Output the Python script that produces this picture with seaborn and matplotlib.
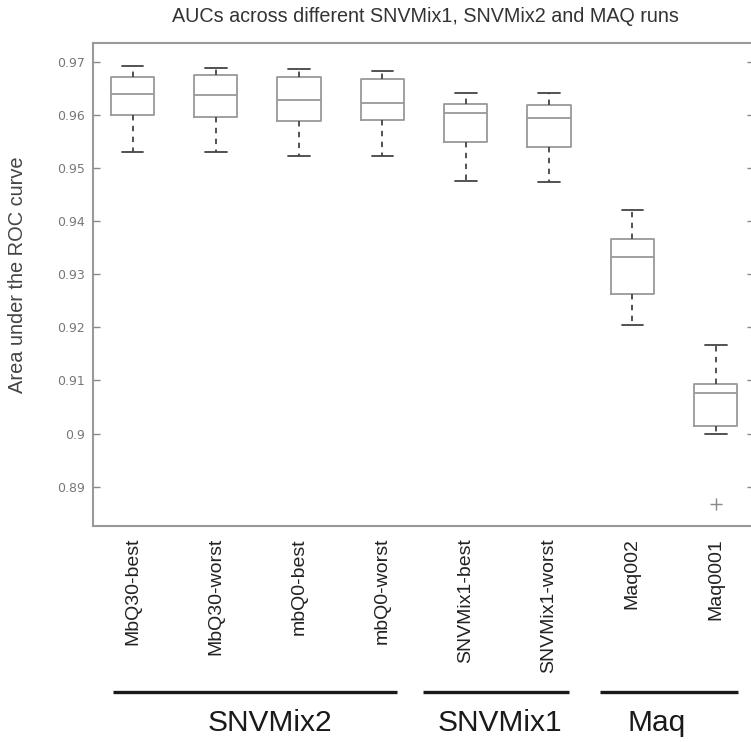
import matplotlib
matplotlib.use("Agg")
import matplotlib.pyplot as plt
import matplotlib.transforms as mtransforms
import pandas as pd
import seaborn as sns

# AUC values per run (five-number summary, plus the Maq0001 outlier)
runs = ['MbQ30-best', 'MbQ30-worst', 'mbQ0-best', 'mbQ0-worst',
        'SNVMix1-best', 'SNVMix1-worst', 'Maq002', 'Maq0001']
auc_mbq30_best = [0.9529, 0.9599, 0.9640, 0.9671, 0.9692]
auc_mbq30_worst = [0.9529, 0.9595, 0.9637, 0.9674, 0.9688]
auc_mbq0_best = [0.9523, 0.9589, 0.9627, 0.9672, 0.9686]
auc_mbq0_worst = [0.9523, 0.9590, 0.9623, 0.9668, 0.9682]
auc_snvmix1_best = [0.9475, 0.9548, 0.9603, 0.9620, 0.9641]
auc_snvmix1_worst = [0.9473, 0.9539, 0.9594, 0.9618, 0.9641]
auc_maq002 = [0.9205, 0.9263, 0.9333, 0.9366, 0.9421]
auc_maq0001 = [0.8868, 0.9000, 0.9014, 0.9040, 0.9077, 0.9088, 0.9094, 0.9130, 0.9166]

groups = ['SNVMix2', 'SNVMix1', 'Maq']
group_spans = [(-0.23, 3.18), (3.49, 5.24), (5.61, 7.27)]
group_label_x = [1.65, 4.41, 6.29]

yticks = [0.89, 0.90, 0.91, 0.92, 0.93, 0.94, 0.95, 0.96, 0.97]

all_auc = [auc_mbq30_best, auc_mbq30_worst, auc_mbq0_best, auc_mbq0_worst,
           auc_snvmix1_best, auc_snvmix1_worst, auc_maq002, auc_maq0001]
rows = []
for name, vals in zip(runs, all_auc):
    for v in vals:
        rows.append({'run': name, 'auc': v})
df = pd.DataFrame(rows)

sns.set_theme(style='white')
plt.rcParams['font.family'] = ['Liberation Sans', 'DejaVu Sans']

fig = plt.figure(figsize=(7.51, 7.42), dpi=100)
ax = fig.add_axes([0.1232, 0.2911, 0.8808, 0.6509])

sns.boxplot(data=df, x='run', y='auc', order=runs, ax=ax, fill=False,
            color='#999999', width=0.52, linewidth=1.3,
            whiskerprops=dict(color='#444444', linestyle=(0, (3, 3))),
            capprops=dict(color='#444444'),
            medianprops=dict(color='#999999'),
            flierprops=dict(marker='+', markeredgecolor='#888888', markersize=8))

ax.set_xlim(-0.48, 7.46)
ax.set_ylim(0.8826, 0.9735)
ax.set_yticks(yticks)
ax.set_yticklabels([f'{v:g}' for v in yticks], fontfamily='DejaVu Sans',
                   fontsize=9, color='#777777')
ax.tick_params(axis='y', direction='in', length=5, width=1, color='#888888',
               right=True, left=True, pad=5.4)
ax.tick_params(axis='x', length=0, pad=8.6, labelsize=14, labelcolor='#222222')
plt.setp(ax.get_xticklabels(), rotation=90, va='top', ha='center')

for side in ['left', 'right', 'top', 'bottom']:
    ax.spines[side].set_color('#999999')
    ax.spines[side].set_linewidth(1.5)

ax.set_xlabel('')
ax.set_ylabel('Area under the ROC curve', fontsize=14.4, color='#444444')
ax.yaxis.set_label_coords(-0.099, 0.52)

fig.text(425.5 / 751, 1 - 17 / 742, 'AUCs across different SNVMix1, SNVMix2 and MAQ runs',
         ha='center', va='center', fontsize=14.2, color='#333333')

# group brackets under the tick labels
trans = mtransforms.blended_transform_factory(ax.transData, ax.transAxes)
for name, (x0, x1), xl in zip(groups, group_spans, group_label_x):
    ax.plot([x0, x1], [-0.343, -0.343], color='#1a1a1a', linewidth=2.4,
            transform=trans, clip_on=False, solid_capstyle='butt')
    ax.text(xl, -0.408, name, transform=trans, ha='center', va='center',
            fontsize=21.5, color='#1a1a1a')

fig.savefig('out.png', dpi=100)
